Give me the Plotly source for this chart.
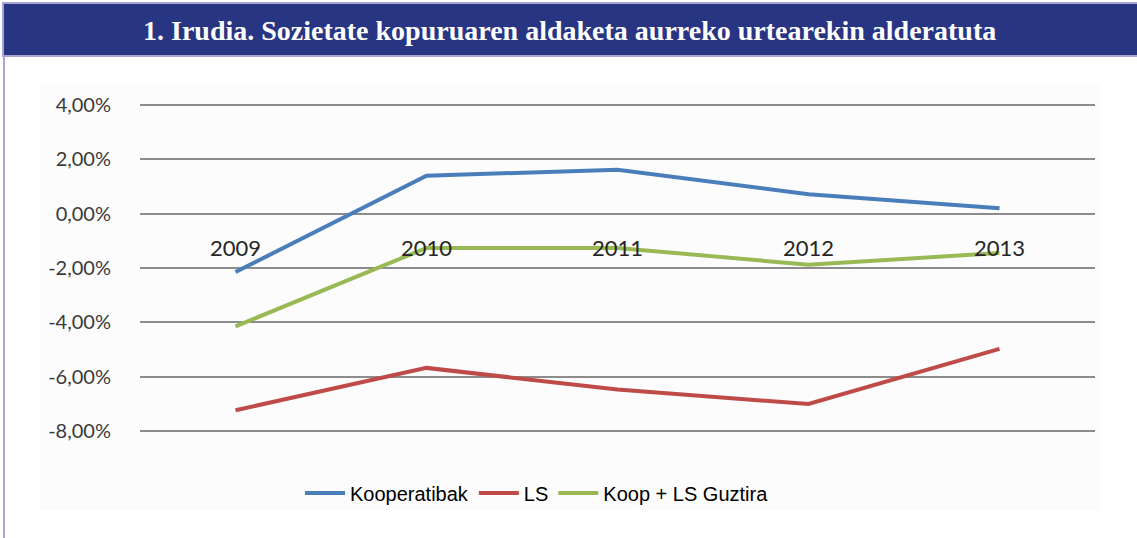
import plotly.graph_objects as go

years = ["2009", "2010", "2011", "2012", "2013"]
kooperatibak = [-2.15, 1.40, 1.62, 0.72, 0.20]
ls = [-7.24, -5.68, -6.48, -7.01, -4.98]
guztira = [-4.15, -1.26, -1.26, -1.88, -1.45]
tick_vals = [4, 2, 0, -2, -4, -6, -8]
tick_text = ["4,00%", "2,00%", "0,00%", "-2,00%", "-4,00%", "-6,00%", "-8,00%"]
title_text = "1. Irudia. Sozietate kopuruaren aldaketa aurreko urtearekin alderatuta"

W, H = 1137, 538
ML, MR, MT, MB = 140, 42, 78, 80
PW, PH = W - ML - MR, H - MT - MB


def px(x):
    return (x - ML) / PW


def py(y):
    return (H - MB - y) / PH


fig = go.Figure()
series = [
    ("Kooperatibak", kooperatibak, "#4a7ebb"),
    ("LS", ls, "#be4b48"),
    ("Koop + LS Guztira", guztira, "#98b954"),
]
for name, vals, col in series:
    fig.add_trace(go.Scatter(x=years, y=vals, mode="lines", name=name,
                             line=dict(color=col, width=4)))

annotations = [
    dict(x=i, y=0, xref="x", yref="y", text=y, showarrow=False,
         yshift=-34, font=dict(family="Lato, Carlito, sans-serif", size=22, color="#262626"))
    for i, y in enumerate(years)
]
annotations.append(dict(x=px(569), y=py(31), xref="paper", yref="paper", yanchor="middle",
                        text="<b>" + title_text + "</b>", showarrow=False,
                        font=dict(family="Liberation Serif, serif", size=28, color="white")))

fig.update_layout(
    width=W, height=H,
    margin=dict(l=ML, r=MR, t=MT, b=MB),
    paper_bgcolor="white", plot_bgcolor="rgba(0,0,0,0)",
    showlegend=True,
    legend=dict(orientation="h", x=px(300), xanchor="left", y=py(493), yanchor="middle",
                bgcolor="rgba(0,0,0,0)",
                font=dict(family="Liberation Sans, Arial, sans-serif", size=20, color="black"),
                itemwidth=40, tracegroupgap=0),
    xaxis=dict(type="category", showgrid=False, zeroline=False, showline=False,
               showticklabels=False, range=[-0.5, 4.5]),
    yaxis=dict(range=[-9, 5], tickvals=tick_vals, ticktext=tick_text,
               showgrid=True, gridcolor="#8c8c8c", gridwidth=2, zeroline=False,
               showline=False, ticks="", ticklabelstandoff=28,
               tickfont=dict(family="Lato, Carlito, sans-serif", size=20, color="#3a3a3a")),
    annotations=annotations,
    shapes=[
        dict(type="rect", xref="paper", yref="paper", x0=px(40), x1=px(1100), y0=py(510), y1=py(84),
             fillcolor="#fcfcfc", line=dict(width=0), layer="below"),
        dict(type="rect", xref="paper", yref="paper",
             x0=px(3), x1=px(1140), y0=py(56), y1=py(3),
             fillcolor="#283583", line=dict(color="#a9a4d0", width=2), layer="above"),
        dict(type="line", xref="paper", yref="paper",
             x0=px(4), x1=px(4), y0=py(540), y1=py(56),
             line=dict(color="#a9a4d0", width=2)),
    ],
)
fig.write_html("out.html", config={"displayModeBar": False},
               post_script="document.body.style.margin='0';")
